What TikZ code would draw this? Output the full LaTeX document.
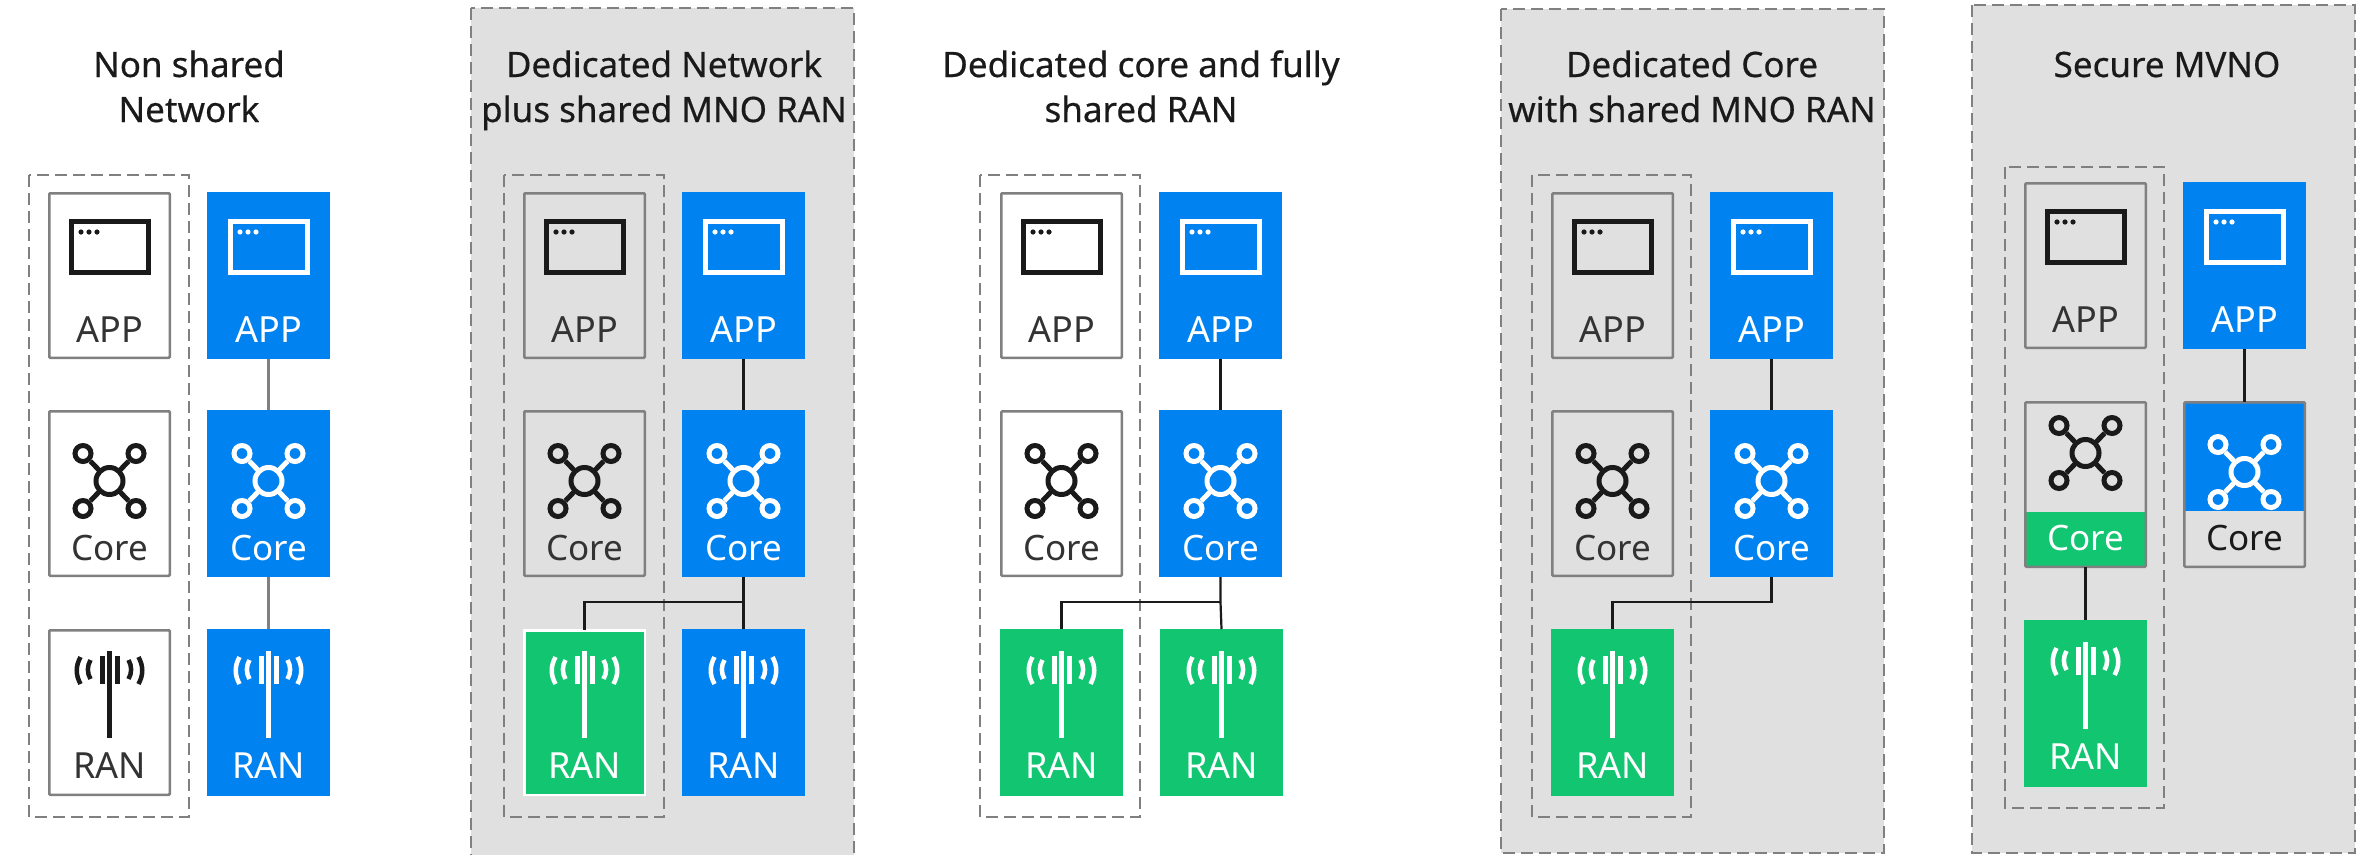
\documentclass[tikz,border=0pt]{standalone}
\usepackage{fontspec}
\setmainfont{Noto Sans}
\newfontfamily\ttlfont[FakeBold=0.45]{Noto Sans}
\definecolor{ebl}{HTML}{0082F0}
\definecolor{egr}{HTML}{12C571}
\definecolor{epanel}{HTML}{E0E0E0}
\definecolor{eedge}{HTML}{808080}
\definecolor{eink}{HTML}{1A1A1A}
\definecolor{etext}{HTML}{333333}
\tikzset{
  x=1pt,y=-1pt,
  panelbox/.style={fill=epanel,draw=eedge,line width=2.7,dash pattern=on 12pt off 6pt},
  groupbox/.style={draw=eedge,line width=2.7,dash pattern=on 12pt off 6pt},
  cellbase/.style={rectangle,inner sep=0,outer sep=0},
  outline/.style={cellbase,draw=eedge,line width=2.5,rounded corners=1,minimum width=120.5,minimum height=164.5},
  bluebox/.style={cellbase,fill=ebl,minimum width=123,minimum height=167},
  greenbox/.style={cellbase,fill=egr,minimum width=123,minimum height=167},
  greenwhite/.style={cellbase,fill=egr,draw=white,line width=2.5,minimum width=120.5,minimum height=164.5},
  lbl/.style={inner sep=0,outer sep=0,anchor=base,font=\fontsize{36}{42}\selectfont},
  ttl/.style={inner sep=0,outer sep=0,anchor=base,text=eink,font=\ttlfont\fontsize{35}{42}\selectfont},
  link/.style={draw=eink,line width=2.2},
  glink/.style={draw=eedge,line width=2.5},
}
\newcommand{\corelbl}{{\fontsize{35}{42}\selectfont Core}}
% #1 box left, #2 box top, #3 colour
\newcommand{\appicon}[3]{\begin{scope}[shift={(#1,#2)}]
  \draw[#3,line width=5] (23.5,29.5) rectangle (100.5,80.5);
  \fill[#3] (33,40) circle[radius=2.6] (41,40) circle[radius=2.6] (49,40) circle[radius=2.6];
\end{scope}}
% #1 centre x, #2 centre y, #3 colour
\newcommand{\coreicon}[3]{\begin{scope}[shift={(#1,#2)},line width=5]
  \draw[#3] (0,0) circle[radius=13.5];
  \foreach \sx/\sy in {-26.5/-27.5,26.5/-27.5,-26.5/27.5,26.5/27.5}{
    \draw[#3] (\sx,\sy) circle[radius=8];
    \draw[#3] ({\sx*0.40},{\sy*0.40}) -- ({\sx*0.72},{\sy*0.72});
  }
\end{scope}}
% #1 box left, #2 box top, #3 colour
\newcommand{\ranicon}[3]{\begin{scope}[shift={(#1+61.5,#2)}]
  \fill[#3] (-2.5,22) rectangle (2.5,109);
  \fill[#3] (-9.5,27) rectangle (-5,55);
  \fill[#3] (5.5,27) rectangle (10,55);
  \draw[#3,line width=4.5] (-29,28) .. controls (-34,37) and (-34,46) .. (-29,55);
  \draw[#3,line width=4.5] (-19,31) .. controls (-22.5,37) and (-22.5,44) .. (-19,50);
  \draw[#3,line width=4.5] (29,28) .. controls (34,37) and (34,46) .. (29,55);
  \draw[#3,line width=4.5] (19,31) .. controls (22.5,37) and (22.5,44) .. (19,50);
\end{scope}}
% #1 name, #2 style, #3 left, #4 top
\newcommand{\cell}[4]{\node[#2] (#1) at (#3+61.5,#4+83.5) {};}
\begin{document}
\begin{tikzpicture}
\useasboundingbox (0,0) rectangle (2366,854);
\fill[white] (0,0) rectangle (2366,854);

% panels
\draw[panelbox] (471,8) rectangle (854,860);
\draw[panelbox] (1501,9) rectangle (1884,853);
\draw[panelbox] (1972,5) rectangle (2355,853);

% dashed groups
\draw[groupbox] (29,175) rectangle (189,817);
\draw[groupbox] (504,175) rectangle (664,817);
\draw[groupbox] (980,175) rectangle (1140,817);
\draw[groupbox] (1532,175) rectangle (1691,817);
\draw[groupbox] (2005,167) rectangle (2164,808);

% titles
\node[ttl] (t1a) at (189,77) {Non shared};
\node[ttl] (t1b) at (189,122) {Network};
\node[ttl] (t2a) at (664,77) {Dedicated Network};
\node[ttl] (t2b) at (664,122) {plus shared MNO RAN};
\node[ttl] (t3a) at (1141,77) {Dedicated core and fully};
\node[ttl] (t3b) at (1141,122) {shared RAN};
\node[ttl] (t4a) at (1692,77) {Dedicated Core};
\node[ttl] (t4b) at (1692,122) {with shared MNO RAN};
\node[ttl] (t5a) at (2167,77) {Secure MVNO};

% column 1
\cell{aa}{outline}{48}{192} \cell{ab}{bluebox}{207}{192}
\cell{ac}{outline}{48}{410} \cell{ad}{bluebox}{207}{410}
\cell{ae}{outline}{48}{629} \cell{af}{bluebox}{207}{629}
\draw[glink] (ab.south) -- (ad.north);
\draw[glink] (ad.south) -- (af.north);
% column 2
\cell{ba}{outline}{523}{192} \cell{bb}{bluebox}{682}{192}
\cell{bc}{outline}{523}{410} \cell{bd}{bluebox}{682}{410}
\cell{be}{greenwhite}{523}{629} \cell{bf}{bluebox}{682}{629}
\coordinate (bj) at (bd.south |- 0,602);
\draw[link] (bb.south) -- (bd.north);
\draw[link] (bd.south) -- (bf.north);
\draw[link] (bj) -- (be.north |- bj) -- (be.north);
% column 3
\cell{ca}{outline}{1000}{192} \cell{cb}{bluebox}{1159}{192}
\cell{cc}{outline}{1000}{410} \cell{cd}{bluebox}{1159}{410}
\cell{ce}{greenbox}{1000}{629} \cell{cf}{greenbox}{1160}{629}
\coordinate (cj) at (cd.south |- 0,602);
\draw[link] (cb.south) -- (cd.north);
\draw[link] (cd.south) -- (cj) -- (cf.north);
\draw[link] (cj) -- (ce.north |- cj) -- (ce.north);
% column 4
\cell{da}{outline}{1551}{192} \cell{db}{bluebox}{1710}{192}
\cell{dc}{outline}{1551}{410} \cell{dd}{bluebox}{1710}{410}
\cell{de}{greenbox}{1551}{629}
\coordinate (dj) at (dd.south |- 0,602);
\draw[link] (db.south) -- (dd.north);
\draw[link] (dd.south) -- (dj) -- (de.north |- dj) -- (de.north);
% column 5
\cell{ea}{outline}{2024}{182} \cell{eb}{bluebox}{2183}{182}
\fill[egr] (2025,512) rectangle (2146,567);
\fill[ebl] (2184,402) rectangle (2305,511);
\cell{ec}{outline}{2024}{401} \cell{ed}{outline}{2183}{401}
\cell{ee}{greenbox}{2024}{620}
\draw[link] (eb.south) -- (ed.north);
\draw[link] (ec.south) -- (ee.north);

% icons
\foreach \bx/\by/\col in {48/192/eink,207/192/white,523/192/eink,682/192/white,1000/192/eink,1159/192/white,1551/192/eink,1710/192/white,2024/182/eink,2183/182/white}{
  \appicon{\bx}{\by}{\col}
}
\foreach \bx/\by/\col in {48/410/eink,207/410/white,523/410/eink,682/410/white,1000/410/eink,1159/410/white,1551/410/eink,1710/410/white,2024/382/eink}{
  \coreicon{\bx+61.5}{\by+71}{\col}
}
\begin{scope}
  \clip (2184,402) rectangle (2305,510);
  \coreicon{2244.5}{472}{white}
\end{scope}
\foreach \bx/\by/\col in {48/629/eink,207/629/white,523/629/white,682/629/white,1000/629/white,1160/629/white,1551/629/white,2024/620/white}{
  \ranicon{\bx}{\by}{\col}
}

% labels
\foreach \nm/\bx/\by/\txt/\col in {
  l01/48/342/APP/etext,l02/207/342/APP/white,l03/48/560/\corelbl/etext,l04/207/560/\corelbl/white,l05/48/778/RAN/etext,l06/207/778/RAN/white,
  l07/523/342/APP/etext,l08/682/342/APP/white,l09/523/560/\corelbl/etext,l10/682/560/\corelbl/white,l11/523/778/RAN/white,l12/682/778/RAN/white,
  l13/1000/342/APP/etext,l14/1159/342/APP/white,l15/1000/560/\corelbl/etext,l16/1159/560/\corelbl/white,l17/1000/778/RAN/white,l18/1160/778/RAN/white,
  l19/1551/342/APP/etext,l20/1710/342/APP/white,l21/1551/560/\corelbl/etext,l22/1710/560/\corelbl/white,l23/1551/778/RAN/white,
  l24/2024/332/APP/etext,l25/2183/332/APP/white,l26/2024/550/\corelbl/white,l27/2183/550/\corelbl/eink,l28/2024/769/RAN/white}{
  \node[lbl,text=\col] (\nm) at (\bx+61.5,\by) {\txt};
}
\end{tikzpicture}
\end{document}
